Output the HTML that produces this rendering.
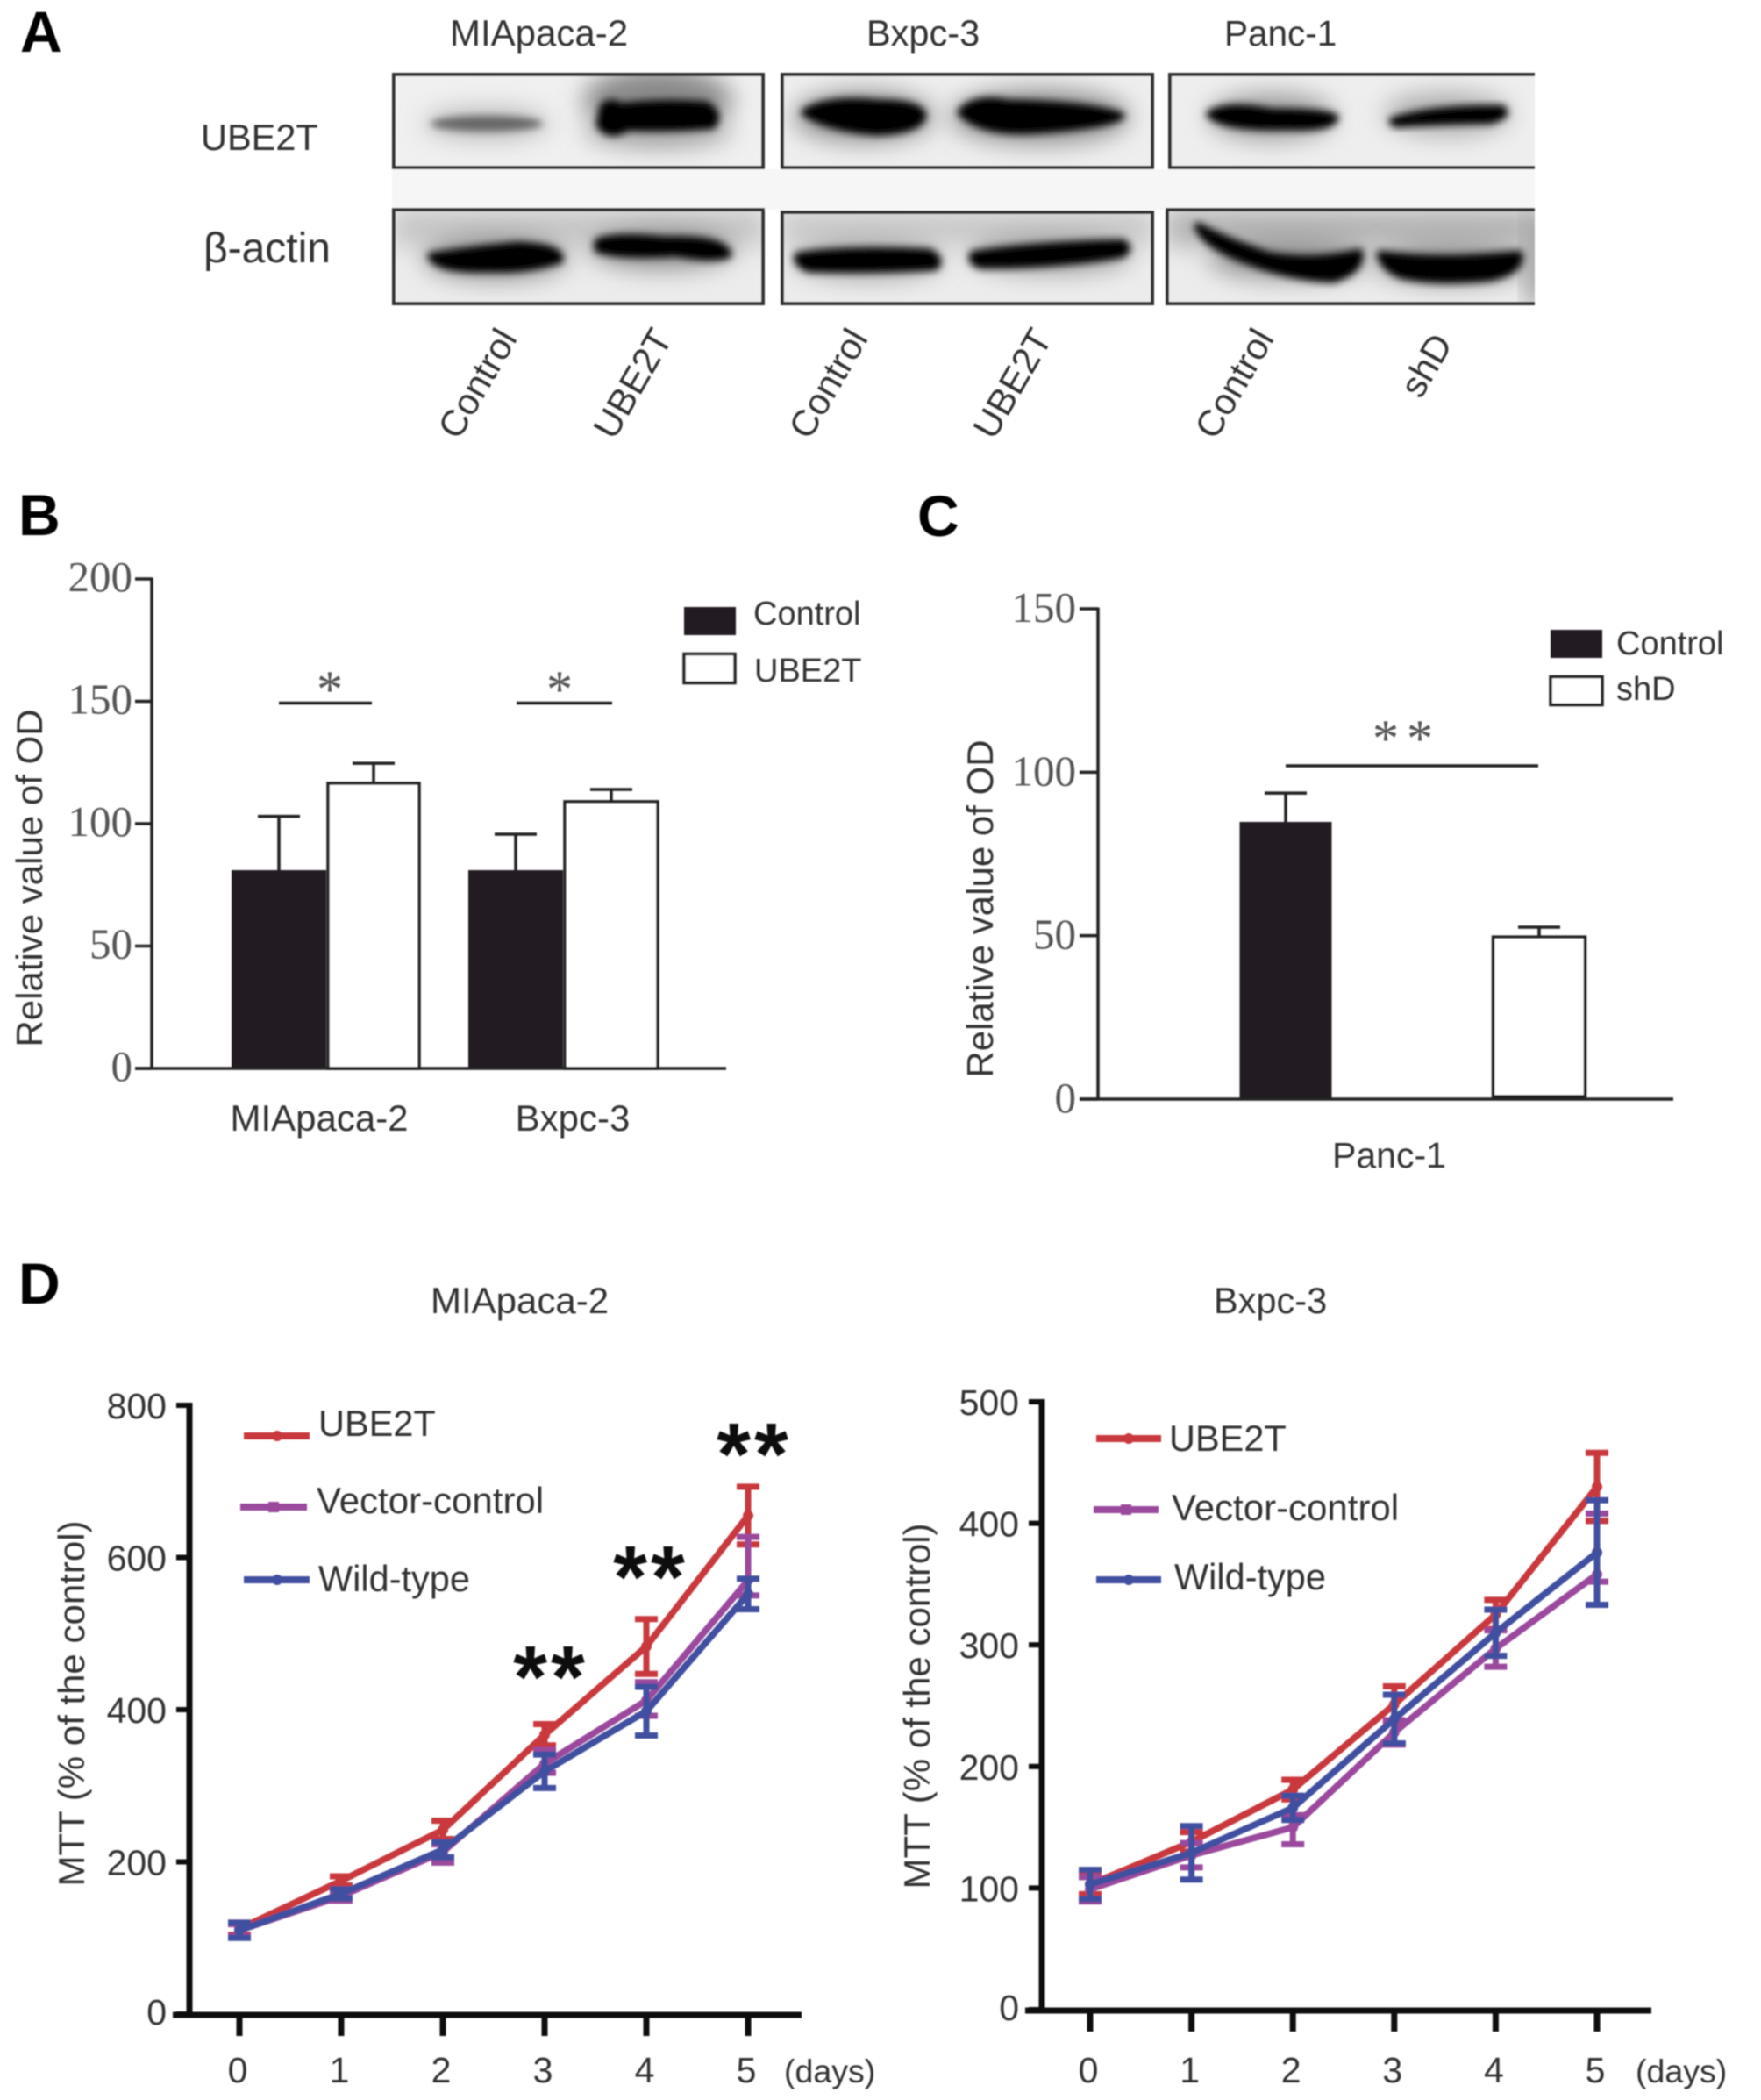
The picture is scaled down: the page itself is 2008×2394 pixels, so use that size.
<!DOCTYPE html>
<html lang="en">
<head>
<meta charset="utf-8">
<title>UBE2T western blot, OD and MTT charts</title>
<style>
html,body{margin:0;padding:0;background:#fff;}
svg{display:block;}
text{font-family:"Liberation Sans",sans-serif;fill:#333;}
.serif{font-family:"Liberation Serif",serif;fill:#555;}
.letter{font-weight:bold;font-size:66px;fill:#000;}
.band{stroke:#000;stroke-width:9;stroke-linejoin:round;}
</style>
</head>
<body>
<svg id="figure" xmlns="http://www.w3.org/2000/svg" width="2008" height="2394" viewBox="0 0 2008 2394">
<defs>
<filter id="b1" x="-30%" y="-30%" width="160%" height="160%"><feGaussianBlur stdDeviation="0.9"/></filter>
<filter id="b4" x="-30%" y="-60%" width="160%" height="220%"><feGaussianBlur stdDeviation="4.500"/></filter>
<filter id="b14" x="-40%" y="-100%" width="180%" height="300%"><feGaussianBlur stdDeviation="14"/></filter>
</defs>
<rect width="2008" height="2394" fill="#fff"/>
<g filter="url(#b1)" id="root">

<!-- PANEL A -->
<text class="letter" x="23" y="59">A</text>
<text x="513" y="52" font-size="42">MIApaca-2</text>
<text x="988" y="52" font-size="41.500">Bxpc-3</text>
<text x="1396" y="52" font-size="40.500">Panc-1</text>
<text x="229" y="171" font-size="41.500">UBE2T</text>
<text x="232" y="299" font-size="48">β-actin</text>
<rect x="447" y="193" width="1303" height="46" fill="#f6f6f6"/>

<g>
<svg x="447" y="83" width="425" height="110" viewBox="447 83 425 110">
<rect x="447" y="83" width="425" height="110" fill="#f0f0f0"/>
<ellipse cx="555" cy="141" rx="72" ry="18" fill="#bbb" filter="url(#b14)"/>
<ellipse cx="555" cy="141" rx="64" ry="9" fill="#666" filter="url(#b4)"/>
<ellipse cx="750" cy="115" rx="85" ry="38" fill="#888" filter="url(#b14)"/>
<ellipse cx="750" cy="150" rx="85" ry="18" fill="#aaa" filter="url(#b14)"/>
<path class="band" d="M688 122 Q696 114 708 122 Q750 116 805 120 Q822 130 812 143 Q760 147 715 145 Q695 158 684 142 Z" fill="#000" filter="url(#b4)"/>
</svg>
<rect x="449" y="85" width="421" height="106" fill="none" stroke="#333" stroke-width="4"/>
</g>

<g>
<svg x="890" y="83" width="426" height="110" viewBox="890 83 426 110">
<rect x="890" y="83" width="426" height="110" fill="#eeeeee"/>
<ellipse cx="985" cy="133" rx="80" ry="28" fill="#888" filter="url(#b14)"/>
<ellipse cx="1186" cy="133" rx="102" ry="30" fill="#888" filter="url(#b14)"/>
<path class="band" d="M918 128 Q945 112 1000 118 Q1050 118 1052 132 Q1048 148 1000 150 Q945 146 918 128 Z" fill="#000" filter="url(#b4)"/>
<path class="band" d="M1096 128 Q1112 110 1150 118 Q1240 120 1278 132 Q1265 142 1180 148 Q1120 152 1096 128 Z" fill="#000" filter="url(#b4)"/>
</svg>
<rect x="892" y="85" width="422" height="106" fill="none" stroke="#333" stroke-width="4"/>
</g>

<g>
<svg x="1332" y="83" width="418" height="110" viewBox="1332 83 418 110">
<rect x="1332" y="83" width="418" height="110" fill="#eeeeee"/>
<ellipse cx="1450" cy="133" rx="72" ry="26" fill="#999" filter="url(#b14)"/>
<ellipse cx="1650" cy="130" rx="72" ry="24" fill="#aaa" filter="url(#b14)"/>
<path class="band" d="M1380 130 Q1400 118 1450 128 Q1510 128 1522 134 Q1518 146 1470 144 Q1395 146 1380 130 Z" fill="#000" filter="url(#b4)"/>
<path class="band" d="M1588 138 Q1630 124 1712 124 Q1722 130 1700 137 Q1630 138 1592 141 Z" fill="#000" filter="url(#b4)"/>
</svg>
<path d="M1750 85 H1334 V191 H1750" fill="none" stroke="#333" stroke-width="4"/>
</g>

<g>
<svg x="447" y="237" width="425" height="111" viewBox="447 237 425 111">
<rect x="447" y="237" width="425" height="111" fill="#ececec"/>
<rect x="447" y="240" width="425" height="40" fill="#c4c4c4" filter="url(#b14)"/>
<ellipse cx="565" cy="294" rx="82" ry="24" fill="#8c8c8c" filter="url(#b14)"/>
<ellipse cx="755" cy="284" rx="82" ry="22" fill="#8c8c8c" filter="url(#b14)"/>
<path class="band" d="M492 292 Q540 285 590 280 Q640 282 638 296 Q600 308 560 306 Q500 308 492 292 Z" fill="#000" filter="url(#b4)"/>
<path class="band" d="M682 276 Q700 268 760 274 Q825 272 830 290 Q815 296 770 288 Q710 292 682 284 Z" fill="#000" filter="url(#b4)"/>
</svg>
<rect x="449" y="239" width="421" height="107" fill="none" stroke="#333" stroke-width="4"/>
</g>

<g>
<svg x="890" y="240" width="426" height="108" viewBox="890 240 426 108">
<rect x="890" y="240" width="426" height="108" fill="#ececec"/>
<rect x="890" y="242" width="426" height="36" fill="#c6c6c6" filter="url(#b14)"/>
<ellipse cx="990" cy="296" rx="84" ry="20" fill="#999" filter="url(#b14)"/>
<ellipse cx="1198" cy="290" rx="92" ry="20" fill="#999" filter="url(#b14)"/>
<path class="band" d="M910 292 Q960 284 1060 288 Q1074 296 1066 304 Q990 308 922 306 Q908 300 910 292 Z" fill="#000" filter="url(#b4)"/>
<path class="band" d="M1110 290 Q1180 280 1280 277 Q1290 284 1278 290 Q1200 302 1118 302 Q1106 298 1110 290 Z" fill="#000" filter="url(#b4)"/>
</svg>
<rect x="892" y="242" width="422" height="104" fill="none" stroke="#333" stroke-width="4"/>
</g>

<g>
<svg x="1329" y="237" width="421" height="111" viewBox="1329 237 421 111">
<rect x="1329" y="237" width="421" height="111" fill="#ececec"/>
<rect x="1329" y="240" width="421" height="40" fill="#b0b0b0" filter="url(#b14)"/>
<rect x="1742" y="240" width="30" height="108" fill="#999" filter="url(#b14)"/>
<ellipse cx="1470" cy="295" rx="92" ry="22" fill="#8c8c8c" filter="url(#b14)"/>
<ellipse cx="1655" cy="300" rx="87" ry="22" fill="#8c8c8c" filter="url(#b14)"/>
<path class="band" d="M1366 258 Q1400 276 1448 292 Q1500 300 1550 288 Q1552 308 1520 318 Q1470 316 1420 296 Q1375 280 1366 258 Z" fill="#000" filter="url(#b4)"/>
<path class="band" d="M1574 290 Q1640 300 1732 290 Q1735 308 1700 316 Q1640 322 1600 314 Q1578 306 1574 290 Z" fill="#000" filter="url(#b4)"/>
</svg>
<path d="M1750 239 H1331 V346 H1750" fill="none" stroke="#333" stroke-width="4"/>
</g>

<text transform="translate(523 503) rotate(-60)" font-size="42">Control</text>
<text transform="translate(700 503) rotate(-60)" font-size="42">UBE2T</text>
<text transform="translate(923 503) rotate(-60)" font-size="42">Control</text>
<text transform="translate(1133 503) rotate(-60)" font-size="42">UBE2T</text>
<text transform="translate(1386 503) rotate(-60)" font-size="42">Control</text>
<text transform="translate(1620 456) rotate(-60)" font-size="42">shD</text>

<!-- PANEL B static -->
<text class="letter" x="21" y="610">B</text>
<text transform="translate(48 1001) rotate(-90)" text-anchor="middle" font-size="42" fill="#444">Relative value of OD</text>
<rect x="780" y="692" width="59" height="32" fill="#231f20"/>
<rect x="780" y="745.500" width="58" height="33" fill="#fff" stroke="#222" stroke-width="3.500"/>
<text x="859" y="712" font-size="38">Control</text>
<text x="860" y="777" font-size="38">UBE2T</text>
<path d="M318 801.500 H424 M589 801.500 H698" stroke="#222" stroke-width="3.500"/>
<text class="serif" x="376" y="806" font-size="60" text-anchor="middle">*</text>
<text class="serif" x="638" y="806" font-size="60" text-anchor="middle">*</text>

<!-- PANEL C static -->
<text class="letter" x="1046" y="611">C</text>
<text transform="translate(1132 1036) rotate(-90)" text-anchor="middle" font-size="42" fill="#444">Relative value of OD</text>
<rect x="1768" y="718" width="59" height="32" fill="#231f20"/>
<rect x="1768" y="771.500" width="59" height="32" fill="#fff" stroke="#222" stroke-width="3.500"/>
<text x="1843" y="746" font-size="38">Control</text>
<text x="1843" y="798" font-size="38">shD</text>
<path d="M1466 873 H1754" stroke="#222" stroke-width="3.500"/>
<text class="serif" x="1580" y="862" font-size="60" text-anchor="middle">*</text>
<text class="serif" x="1619" y="862" font-size="60" text-anchor="middle">*</text>

<!-- PANEL D static -->
<text class="letter" x="21" y="1486">D</text>
<text x="491" y="1497" font-size="42">MIApaca-2</text>
<text x="1384" y="1497" font-size="41.500">Bxpc-3</text>
<text transform="translate(96 1942) rotate(-90)" text-anchor="middle" font-size="42">MTT (% of the control)</text>
<text transform="translate(1060 1945) rotate(-90)" text-anchor="middle" font-size="42">MTT (% of the control)</text>
<text x="894" y="2374" font-size="37.500">(days)</text>
<text x="1865" y="2374" font-size="37.500">(days)</text>

<g>
<path d="M278 1637 H353" stroke="#c8383c" stroke-width="8"/>
<circle cx="316" cy="1637" r="6" fill="#c8383c"/>
<text x="363" y="1637" font-size="41.500">UBE2T</text>
<path d="M274 1718 H350" stroke="#9a4a9c" stroke-width="8"/>
<rect x="306" y="1712" width="12" height="12" fill="#9a4a9c"/>
<text x="361" y="1725" font-size="42">Vector-control</text>
<path d="M278 1801 H353" stroke="#3f4f9f" stroke-width="8"/>
<circle cx="316" cy="1801" r="6" fill="#3f4f9f"/>
<text x="363" y="1814" font-size="41.500">Wild-type</text>
</g>
<g>
<path d="M1250 1640 H1324" stroke="#c8383c" stroke-width="8"/>
<circle cx="1287" cy="1640" r="6" fill="#c8383c"/>
<text x="1333" y="1654" font-size="41.500">UBE2T</text>
<path d="M1247 1721 H1321" stroke="#9a4a9c" stroke-width="8"/>
<rect x="1278" y="1715" width="12" height="12" fill="#9a4a9c"/>
<text x="1336" y="1733" font-size="42">Vector-control</text>
<path d="M1250 1801 H1324" stroke="#3f4f9f" stroke-width="8"/>
<circle cx="1287" cy="1801" r="6" fill="#3f4f9f"/>
<text x="1339" y="1812" font-size="41.500">Wild-type</text>
</g>
<g id="charts"></g>
<g id="d-stars">
<text x="628" y="1946" font-size="100" font-weight="bold" text-anchor="middle" letter-spacing="4" style="fill:#111">**</text>
<text x="742" y="1832" font-size="100" font-weight="bold" text-anchor="middle" letter-spacing="4" style="fill:#111">**</text>
<text x="860" y="1692" font-size="100" font-weight="bold" text-anchor="middle" letter-spacing="4" style="fill:#111">**</text>
</g>
</g>
</svg>
<script>
// Panel B data
const bCategories = ['MIApaca-2', 'Bxpc-3'];
const bTicks = [0, 50, 100, 150, 200];
const bControl = [81, 81];
const bControlErr = [22, 14.7];
const bUbe2t = [116.5, 109];
const bUbe2tErr = [8.2, 5];

// Panel C data
const cCategories = ['Panc-1'];
const cTicks = [0, 50, 100, 150];
const cControl = [84.8];
const cControlErr = [8.8];
const cShd = [49.6];
const cShdErr = [3];

// Panel D left (MIApaca-2) data
const days = [0, 1, 2, 3, 4, 5];
const d1Ticks = [0, 200, 400, 600, 800];
const d1Ube2t = [112, 175, 242, 367, 483, 655];
const d1Ube2tErr = [8, 6, 12, 14, 36, 38];
const d1Vector = [110, 155, 213, 329, 412, 570];
const d1VectorErrUp = [8, 6, 10, 18, 24, 57];
const d1VectorErrDown = [8, 6, 14, 12, 20, 20];
const d1Wild = [110, 158, 216, 319, 398, 552];
const d1WildErr = [10, 6, 10, 22, 32, 20];

// Panel D right (Bxpc-3) data
const d2Ticks = [0, 100, 200, 300, 400, 500];
const d2Ube2t = [103, 138, 181, 251, 325, 430];
const d2Ube2tErr = [8, 8, 8, 15, 12, 28];
const d2Vector = [99, 127, 150, 228, 297, 358];
const d2VectorErrUp = [10, 10, 10, 10, 15, 50];
const d2VectorErrDown = [10, 10, 14, 10, 15, 6];
const d2Wild = [103, 129, 166, 239, 310, 376];
const d2WildErr = [12, 22, 10, 20, 19, 43];

const NS = 'http://www.w3.org/2000/svg';
const charts = document.getElementById('charts');
function mk(tag, attrs, parent, txt) {
  const e = document.createElementNS(NS, tag);
  for (const k in attrs) e.setAttribute(k, attrs[k]);
  if (txt !== undefined) e.textContent = txt;
  parent.appendChild(e);
  return e;
}
function group(parent, name) {
  const g = mk('g', {}, parent);
  
  
  return g;
}
function seg(parent, x1, y1, x2, y2, color, w, name) {
  const l = mk('line', {x1: x1, y1: y1, x2: x2, y2: y2, stroke: color, 'stroke-width': w}, parent);
  
  
  return l;
}
function label(parent, x, y, str, size, anchor, cls, name) {
  const t = mk('text', {x: x, y: y, 'font-size': size, 'text-anchor': anchor}, parent, str);
  if (cls) t.setAttribute('class', cls);
  
  
  return t;
}

function bar(parent, name, cx, w, v, err, y, baseY, filled, capW) {
  const ex = cx;
  seg(parent, ex, y(v), ex, y(v + err), '#222', 3.5, name + '-error-stem');
  seg(parent, ex - capW / 2, y(v + err), ex + capW / 2, y(v + err), '#222', 3.5, name + '-error-cap');
  const r = mk('rect', filled
    ? {x: cx - w / 2, y: y(v), width: w, height: baseY - y(v), fill: '#231f20'}
    : {x: cx - w / 2 + 2, y: y(v), width: w - 4, height: baseY - y(v), fill: '#fff', stroke: '#222', 'stroke-width': 3.5}, parent);
  
  
}

// ----- Panel B -----
(function () {
  const g = group(charts, 'panel-b-bar-chart');
  const y = v => 1218 - v * (558 / 200);
  const xGroup = i => 372 + 270 * i;
  const w = 108;
  bCategories.forEach((c, i) => {
    bar(g, 'b-bar-control-' + i, xGroup(i) - w / 2, w, bControl[i], bControlErr[i], y, y(0), true, 48);
    bar(g, 'b-bar-ube2t-' + i, xGroup(i) + w / 2 + i, w + i * 2, bUbe2t[i], bUbe2tErr[i], y, y(0), false, 48);
    label(g, xGroup(i) - 8 + i * 19, 1289, c, 42, 'middle', '', 'b-category-label-' + i);
  });
  seg(g, 173, y(200) - 1.5, 173, y(0), '#222', 3.5, 'b-y-axis');
  seg(g, 154, y(0), 828, y(0), '#222', 3.5, 'b-x-axis');
  bTicks.forEach(t => {
    seg(g, 154, y(t), 173, y(t), '#222', 3.5, 'b-y-tick-' + t);
    label(g, 151, y(t) + 14, String(t), 49, 'end', 'serif', 'b-y-tick-label-' + t);
  });
})();

// ----- Panel C -----
(function () {
  const g = group(charts, 'panel-c-bar-chart');
  const y = v => 1253 - v * (559 / 150);
  const xControl = () => 1466;
  const xShd = () => 1755;
  bar(g, 'c-bar-control', xControl(), 105, cControl[0], cControlErr[0], y, y(0), true, 48);
  bar(g, 'c-bar-shd', xShd(), 109, cShd[0], cShdErr[0], y, y(0) - 3, false, 48);
  label(g, 1584, 1331, cCategories[0], 41, 'middle', '', 'c-category-label');
  seg(g, 1252, y(150) - 1.5, 1252, y(0), '#222', 3.5, 'c-y-axis');
  seg(g, 1231, y(0), 1908, y(0), '#222', 3.5, 'c-x-axis');
  cTicks.forEach(t => {
    seg(g, 1231, y(t), 1252, y(t), '#222', 3.5, 'c-y-tick-' + t);
    label(g, 1227, y(t) + 15, String(t), 49, 'end', 'serif', 'c-y-tick-label-' + t);
  });
})();

// ----- Panel D -----
function lineChart(prefix, x, y, ticks, axis, seriesList) {
  const g = group(charts, prefix + '-line-chart');
  seriesList.forEach(s => {
    const sg = group(g, prefix + '-series-' + s.name);
    days.forEach((d, i) => {
      const hi = y(s.vals[i] + s.up[i]);
      const lo = y(s.vals[i] - s.down[i]);
      seg(sg, x(d), hi, x(d), lo, s.color, 7, prefix + '-' + s.name + '-error-stem-' + d);
      seg(sg, x(d) - 13, hi, x(d) + 13, hi, s.color, 7, prefix + '-' + s.name + '-error-cap-high-' + d);
      seg(sg, x(d) - 13, lo, x(d) + 13, lo, s.color, 7, prefix + '-' + s.name + '-error-cap-low-' + d);
    });
    const pts = days.map((d, i) => x(d) + ',' + y(s.vals[i])).join(' ');
    const pl = mk('polyline', {points: pts, fill: 'none', stroke: s.color, 'stroke-width': 7.5, 'stroke-linejoin': 'round'}, sg);
    
    
    days.forEach((d, i) => {
      const c = mk('circle', {cx: x(d), cy: y(s.vals[i]), r: 6, fill: s.color}, sg);
      
      
    });
  });
  seg(g, axis.yx, y(ticks[ticks.length - 1]) - 3, axis.yx, axis.xy + 3, '#111', 7, prefix + '-y-axis');
  seg(g, axis.xStart, axis.xy, axis.xEnd, axis.xy, '#111', 7, prefix + '-x-axis');
  ticks.forEach(t => {
    seg(g, axis.yx - 15, y(t), axis.yx, y(t), '#111', 6, prefix + '-y-tick-' + t);
    label(g, axis.yx - 26, y(t) + (t === 0 ? 12 : 15), String(t), 41, 'end', '', prefix + '-y-tick-label-' + t);
  });
  days.forEach(d => {
    seg(g, x(d), axis.xy, x(d), axis.xy + 24, '#111', 7, prefix + '-x-tick-' + d);
    label(g, x(d) - 2, 2374, String(d), 41, 'middle', '', prefix + '-x-tick-label-' + d);
  });
}

lineChart('d-left', d => 273 + d * 116, v => 2296 - v * (694 / 800), d1Ticks,
  {yx: 216, xy: 2297, xStart: 197, xEnd: 914},
  [
    {name: 'ube2t', color: '#c8383c', vals: d1Ube2t, up: d1Ube2tErr, down: d1Ube2tErr},
    {name: 'vector', color: '#9a4a9c', vals: d1Vector, up: d1VectorErrUp, down: d1VectorErrDown},
    {name: 'wild', color: '#3f4f9f', vals: d1Wild, up: d1WildErr, down: d1WildErr}
  ]);
lineChart('d-right', d => 1243 + d * 115.6, v => 2291 - v * (693 / 500), d2Ticks,
  {yx: 1188, xy: 2292, xStart: 1169, xEnd: 1883},
  [
    {name: 'ube2t', color: '#c8383c', vals: d2Ube2t, up: d2Ube2tErr, down: d2Ube2tErr},
    {name: 'vector', color: '#9a4a9c', vals: d2Vector, up: d2VectorErrUp, down: d2VectorErrDown},
    {name: 'wild', color: '#3f4f9f', vals: d2Wild, up: d2WildErr, down: d2WildErr}
  ]);
</script>
</body>
</html>
